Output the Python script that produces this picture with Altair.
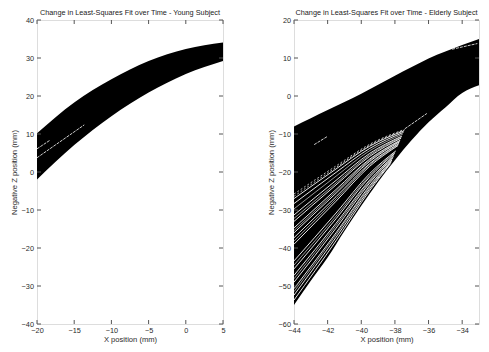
import altair as alt
import pandas as pd

FONT = "Liberation Sans"
INK = "#2a2a2a"
FRAME = "#555555"

# ---------------- Young subject (left panel) ----------------
young_x = [-20, -15, -10, -5, 0, 5]
young_top = [10.2, 18.3, 24.4, 29.2, 32.4, 34.1]
young_bottom = [-2.0, 7.1, 14.7, 20.9, 25.8, 29.2]

young_gap_id = ["a", "a", "b", "b"]
young_gap_x = [-20.0, -18.3, -20.0, -13.65]
young_gap_y = [6.1, 8.3, 3.75, 12.4]

young_xticks = [-20, -15, -10, -5, 0, 5]
young_yticks = [-40, -30, -20, -10, 0, 10, 20, 30, 40]

# ---------------- Elderly subject (right panel) ----------------
eld_x = [-44, -43, -42, -41, -40, -39, -38, -37, -36, -35, -34, -33]
eld_top = [-8.0, -5.85, -3.7, -1.55, 0.6, 2.95, 5.3, 7.6, 9.9, 11.7, 13.4, 15.0]
eld_bottom = [-55.0, -48.6, -42.5, -35.5, -28.9, -22.6, -16.9, -11.6, -6.9, -3.0, 0.8, 2.8]

# white gaps between the fanned-out fit curves (lower left of the band)
fan_id = [i for i in range(1, 16) for _ in range(4)]
fan_x = [-44, -41.5, -39.5, -37.45, -44, -41.5, -39.5, -37.49, -44, -41.5, -39.5, -37.58,
         -44, -41.5, -39.5, -37.63, -44, -41.5, -39.5, -37.68, -44, -41.5, -39.5, -37.72,
         -44, -41.5, -39.5, -37.76, -44, -41.5, -39.5, -37.81, -44, -41.5, -39.5, -37.95,
         -44, -41.5, -39.5, -38.01, -44, -41.5, -39.5, -38.06, -44, -41.5, -39.5, -38.12,
         -44, -41.5, -39.5, -38.17, -44, -41.5, -39.5, -38.22, -44, -41.5, -39.5, -38.26]
fan_y = [-27.0, -19.2, -13.2, -9.15, -28.3, -20.1, -13.8, -9.57, -31.3, -22.2, -15.1, -10.54,
         -33.0, -23.4, -15.9, -11.09, -34.7, -24.6, -16.6, -11.63, -36.0, -25.6, -17.2, -12.06,
         -37.3, -26.5, -17.8, -12.48, -39.0, -27.7, -18.5, -13.03, -43.4, -30.8, -20.4, -14.46,
         -45.5, -32.3, -21.3, -15.13, -47.2, -33.5, -22.1, -15.68, -49.0, -34.8, -22.9, -16.26,
         -50.7, -36.0, -23.6, -16.81, -52.4, -37.2, -24.4, -17.36, -53.7, -38.1, -24.9, -17.78]

# fainter, thinner gaps in between
thin_id = [i for i in range(1, 8) for _ in range(4)]
thin_x = [-44, -41.5, -39.5, -37.53, -44, -41.5, -39.5, -37.61, -44, -41.5, -39.5, -37.71,
          -44, -41.5, -39.5, -37.79, -44, -41.5, -39.5, -37.98, -44, -41.5, -39.5, -38.09,
          -44, -41.5, -39.5, -38.19]
thin_y = [-29.7, -21.1, -14.4, -10.02, -32.2, -22.9, -15.5, -10.83, -35.4, -25.1, -16.9, -11.86,
          -38.2, -27.1, -18.1, -12.77, -44.5, -31.6, -20.9, -14.80, -48.1, -34.1, -22.5, -15.97,
          -51.5, -36.5, -24.0, -17.07]

# grainy broken gaps along the top of the fan
grain_id = ["g1", "g1", "g1", "g1", "g2", "g2", "g2", "g2"]
grain_x = [-44, -41.5, -39.5, -37.42, -44, -41.5, -39.5, -37.44]
grain_y = [-25.8, -18.4, -12.7, -8.76, -26.4, -18.8, -12.95, -8.95]

eld_gap_id = ["s1", "s1", "s2", "s2", "s3", "s3"]
eld_gap_x = [-42.8, -42.0, -37.4, -36.1, -34.6, -33.1]
eld_gap_y = [-12.8, -10.6, -8.6, -4.6, 12.3, 13.8]

eld_xticks = [-44, -42, -40, -38, -36, -34]
eld_yticks = [-60, -50, -40, -30, -20, -10, 0, 10, 20]

W_L, W_R, H = 186, 185, 304
TICK = 4


def panel(title, width, xdom, ydom, xticks, yticks, band, gaps, fans=()):
    xs = alt.Scale(domain=xdom, nice=False, zero=False)
    ys = alt.Scale(domain=ydom, nice=False, zero=False)
    xax = alt.Axis(title="X position (mm)", values=xticks, ticks=False, domain=False,
                   grid=False, labelFlush=False, labelOverlap=False, labelPadding=2,
                   titlePadding=2, labelFontSize=7.3, titleFontSize=7.6, labelFont=FONT,
                   titleFont=FONT, labelColor=INK, titleColor=INK, titleFontWeight="normal")
    yax = alt.Axis(title="Negative Z position (mm)", values=yticks, ticks=False, domain=False,
                   grid=False, labelFlush=False, labelOverlap=False, labelPadding=3.5,
                   titlePadding=2.5, labelFontSize=7.3, titleFontSize=7.6, labelFont=FONT,
                   titleFont=FONT, labelColor=INK, titleColor=INK, titleFontWeight="normal")

    def X(f):
        return alt.X(f, type="quantitative", scale=xs, axis=xax)

    def Y(f):
        return alt.Y(f, type="quantitative", scale=ys, axis=yax)

    layers = [
        alt.Chart(band).mark_area(color="black", interpolate="monotone", clip=True)
        .encode(x=X("x"), y=Y("top"), y2="bottom")
    ]
    for df, sw, dash in fans:
        kw = dict(color="white", strokeWidth=sw, interpolate="monotone", clip=True)
        if dash:
            kw["strokeDash"] = dash
        layers.append(
            alt.Chart(df).mark_line(**kw).encode(x=X("x"), y=Y("y"), detail="id:N")
        )
    layers.append(
        alt.Chart(gaps).mark_line(color="white", strokeWidth=0.8, strokeDash=[3, 1], clip=True)
        .encode(x=X("x"), y=Y("y"), detail="id:N")
    )
    xt = pd.DataFrame({"v": xticks})
    yt = pd.DataFrame({"v": yticks})
    tick_style = dict(color=FRAME, strokeWidth=1)
    layers += [
        alt.Chart(xt).mark_rule(**tick_style).encode(x=X("v"), y=alt.value(H), y2=alt.value(H - TICK)),
        alt.Chart(xt).mark_rule(**tick_style).encode(x=X("v"), y=alt.value(0), y2=alt.value(TICK)),
        alt.Chart(yt).mark_rule(**tick_style).encode(y=Y("v"), x=alt.value(0), x2=alt.value(TICK)),
        alt.Chart(yt).mark_rule(**tick_style).encode(y=Y("v"), x=alt.value(width), x2=alt.value(width - TICK)),
    ]
    return alt.layer(*layers).properties(
        width=width, height=H,
        title=alt.TitleParams(title, fontSize=7.3, font=FONT, fontWeight="normal",
                              color="#222222", offset=0, anchor="middle"),
    )


young_band = pd.DataFrame({"x": young_x, "top": young_top, "bottom": young_bottom})
young_gaps = pd.DataFrame({"id": young_gap_id, "x": young_gap_x, "y": young_gap_y})
eld_band = pd.DataFrame({"x": eld_x, "top": eld_top, "bottom": eld_bottom})
eld_gaps = pd.DataFrame({"id": eld_gap_id, "x": eld_gap_x, "y": eld_gap_y})
eld_fan = pd.DataFrame({"id": fan_id, "x": fan_x, "y": fan_y})
eld_thin = pd.DataFrame({"id": thin_id, "x": thin_x, "y": thin_y})
eld_grain = pd.DataFrame({"id": grain_id, "x": grain_x, "y": grain_y})

left = panel("Change in Least-Squares Fit over Time - Young Subject", W_L, [-20, 5], [-40, 40],
             young_xticks, young_yticks, young_band, young_gaps)
right = panel("Change in Least-Squares Fit over Time - Elderly Subject", W_R, [-44, -33], [-60, 20],
              eld_xticks, eld_yticks, eld_band, eld_gaps,
              fans=[(eld_fan, 0.9, None), (eld_thin, 0.6, None), (eld_grain, 0.7, [2, 2])])

chart = alt.hconcat(left, right, spacing=41).properties(
    padding={"left": 2, "top": 0, "right": 0, "bottom": 0}
).configure_view(stroke=FRAME, strokeWidth=1).configure(background="white")

chart.save("out.html", embed_options={"renderer": "svg", "actions": False})
